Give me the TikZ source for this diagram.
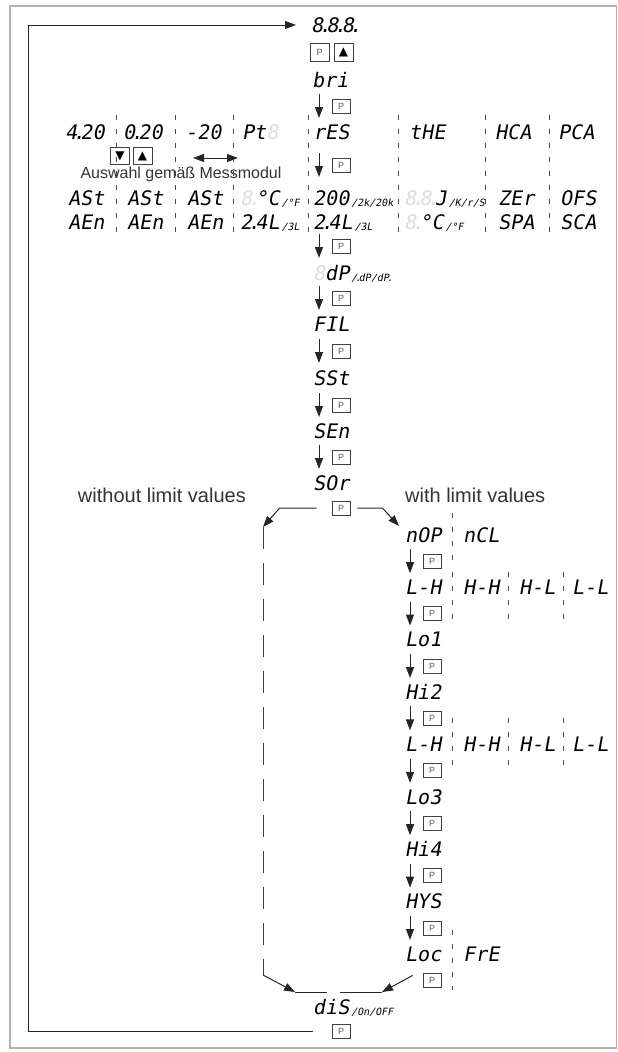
\documentclass[tikz,border=0pt]{standalone}
\usepackage{fontspec}
\usepackage{tikz}
\usetikzlibrary{arrows.meta}

\setmainfont{Liberation Sans}
\newfontfamily\segfont[FakeSlant=0.18]{DejaVu Sans Mono}
\newfontfamily\symfont{DejaVu Sans}
\newcommand{\unlit}[1]{\textcolor{black!13}{#1}}
\newcommand{\segdot}{\kern-0.22em.\kern-0.22em}
\newcommand{\subt}[1]{\kern2pt\raisebox{-1.5pt}{\fontsize{10}{10}\selectfont #1}}

\begin{document}
\begin{tikzpicture}[x=1pt, y=-1pt,
    seg/.style={font=\segfont\fontsize{20}{20}\selectfont, anchor=west, inner sep=0pt, text height=14pt, text depth=0pt},
    pbox/.style={draw=black!75, line width=0.7pt, minimum width=18pt, minimum height=14pt, inner sep=0pt, font=\fontsize{9}{9}\selectfont, text=black!65},
    kbox/.style={draw=black!75, line width=0.7pt, minimum width=19pt, minimum height=17pt, inner sep=0pt, font=\symfont\fontsize{12}{12}\selectfont},
    flow/.style={draw=black!85, line width=1pt, -{Triangle[length=11pt, width=8pt]}},
    both/.style={draw=black!85, line width=1pt, {Triangle[length=11pt, width=8pt]}-{Triangle[length=11pt, width=8pt]}},
    plain/.style={draw=black!85, line width=1pt},
    sep/.style={draw=black!70, line width=0.6pt, dash pattern=on 5pt off 9pt},
    wline/.style={draw=black!75, line width=0.8pt, dash pattern=on 22pt off 14pt},
    lbl/.style={inner sep=0pt, text=black!80}]

    \useasboundingbox (0,0) rectangle (618,1052);
    \draw[black!30, line width=1.2pt] (10,6) rectangle (616.5,1048);

    % display test, brightness
    \node[seg] (disp) at (311,25) {8\segdot8\segdot8\segdot};
    \node[pbox, minimum width=19pt, minimum height=18pt] (pkey) at (319.5,52) {P};
    \node[kbox, minimum height=18pt] (upkey) at (343.5,52) {▲};
    \node[seg] (bri) at (312,80) {bri};

    % input selection
    \node[seg] (in420) at (65,132) {4\segdot20};
    \node[seg] (in020) at (123,132) {0\segdot20};
    \node[seg] (inpm) at (185,132) {-20};
    \node[seg] (inpt) at (242,132) {Pt\unlit{8}};
    \node[seg] (inres) at (313,132) {rES};
    \node[seg] (inthe) at (409,132) {tHE};
    \node[seg] (inhca) at (495,132) {HCA};
    \node[seg] (inpca) at (558,132) {PCA};
    \foreach \x in {116,175,233,308,398,485,549}
        \draw[sep] (\x,115) -- (\x,234);

    \node[kbox] (dnsel) at (120,156) {▼};
    \node[kbox] (upsel) at (142.5,156) {▲};
    \coordinate (selL) at (193,158);
    \coordinate (selR) at (238,158);
    \draw[both] (selL) -- (selR);
    \node[lbl, font=\fontsize{16}{16}\selectfont] (module) at (181,174) {Auswahl gemäß Messmodul};

    % sub menus of the inputs
    \foreach \x [count=\i] in {68,127,187} {
        \node[seg] (ast\i) at (\x,198) {ASt};
        \node[seg] (aen\i) at (\x,222) {AEn};
    }
    \node[seg] (ptunit) at (240,198) {\unlit{8\segdot}°C\subt{/°F}};
    \node[seg] (ptwire) at (240,222) {2\segdot4L\subt{/3L}};
    \node[seg] (resrange) at (313,198) {200\subt{/2k/20k}};
    \node[seg] (reswire) at (313,222) {2\segdot4L\subt{/3L}};
    \node[seg] (tctype) at (404,198) {\unlit{8\segdot8\segdot}J\subt{/K/r/S}};
    \node[seg] (tcunit) at (404,222) {\unlit{8\segdot}°C\subt{/°F}};
    \node[seg] (zer) at (498,198) {ZEr};
    \node[seg] (spa) at (498,222) {SPA};
    \node[seg] (ofs) at (560,198) {OFS};
    \node[seg] (sca) at (560,222) {SCA};

    % main column
    \node[seg] (dp) at (313,273) {\unlit{8}dP\subt{/\segdot dP/dP\segdot}};
    \node[seg] (fil) at (313,324) {FIL};
    \node[seg] (sst) at (313,378) {SSt};
    \node[seg] (sen) at (313,431) {SEn};
    \node[seg] (sor) at (313,483) {SOr};
    \foreach \y [count=\i] in {106,165,246,298,351,405,457} {
        \node[pbox] (s\i) at (341,\y) {P};
        \draw[flow] ([shift={(-22pt,12pt)}]s\i.center) -- ([shift={(-22pt,-12pt)}]s\i.center);
    }
    \node[pbox] (psor) at (341,508) {P};

    \node[lbl, anchor=east, font=\fontsize{20}{20}\selectfont] (without) at (246,495) {without limit values};
    \node[lbl, anchor=west, font=\fontsize{20}{20}\selectfont] (with) at (405,495) {with limit values};

    % limit values
    \node[seg] (nop) at (405,535) {nOP};
    \node[seg] (ncl) at (463,535) {nCL};
    \node[seg] (lh1) at (405,587.4) {L-H};
    \node[seg] (hh1) at (463,587.4) {H-H};
    \node[seg] (hl1) at (519,587.4) {H-L};
    \node[seg] (ll1) at (572,587.4) {L-L};
    \node[seg] (lo1) at (405,639.8) {Lo1};
    \node[seg] (hi2) at (405,692.2) {Hi2};
    \node[seg] (lh2) at (405,744.6) {L-H};
    \node[seg] (hh2) at (463,744.6) {H-H};
    \node[seg] (hl2) at (519,744.6) {H-L};
    \node[seg] (ll2) at (572,744.6) {L-L};
    \node[seg] (lo3) at (405,797) {Lo3};
    \node[seg] (hi4) at (405,849.4) {Hi4};
    \node[seg] (hys) at (405,901.8) {HYS};
    \node[seg] (loc) at (405,954.2) {Loc};
    \node[seg] (fre) at (463,954.2) {FrE};
    \draw[sep] (452,513) -- (452,567);
    \foreach \x in {452,508,563} {
        \draw[sep] (\x,572) -- (\x,628);
        \draw[sep] (\x,718) -- (\x,770);
    }
    \draw[sep] (452,930) -- (452,990);
    \foreach \y [count=\i] in {561.2,613.6,666,718.4,770.8,823.2,875.6,928} {
        \node[pbox] (r\i) at (432,\y) {P};
        \draw[flow] ([shift={(-22pt,12pt)}]r\i.center) -- ([shift={(-22pt,-12pt)}]r\i.center);
    }
    \node[pbox] (ploc) at (432,980.4) {P};

    % branches
    \coordinate (wtop) at (263,527);
    \coordinate (wbot) at (263,975);
    \draw[flow] ([xshift=-15pt]psor.west) -- ++(-37,0) -- (wtop);
    \draw[flow] ([xshift=7pt]psor.east) -- ++(25,0) -- ([shift={(-6pt,9pt)}]nop.west);
    \draw[wline] (wtop) -- (wbot);

    \node[seg] (dis) at (313,1007) {diS\subt{/On/OFF}};
    \node[pbox] (pend) at (341,1031) {P};
    \coordinate (b1) at (295,992);
    \coordinate (b2) at (327,992);
    \coordinate (b3) at (340,992);
    \coordinate (b4) at (382,992);
    \draw[flow] (wbot) -- (b1);
    \draw[plain] (b1) -- (b2);
    \draw[flow] ([shift={(-10pt,5pt)}]ploc.west) -- (b4);
    \draw[plain] (b4) -- (b3);

    % back to start
    \coordinate (ret) at (28,25);
    \draw[flow] ([xshift=-19pt]pend.west) -| (ret) -- ([xshift=-15pt]disp.west);
\end{tikzpicture}
\end{document}
